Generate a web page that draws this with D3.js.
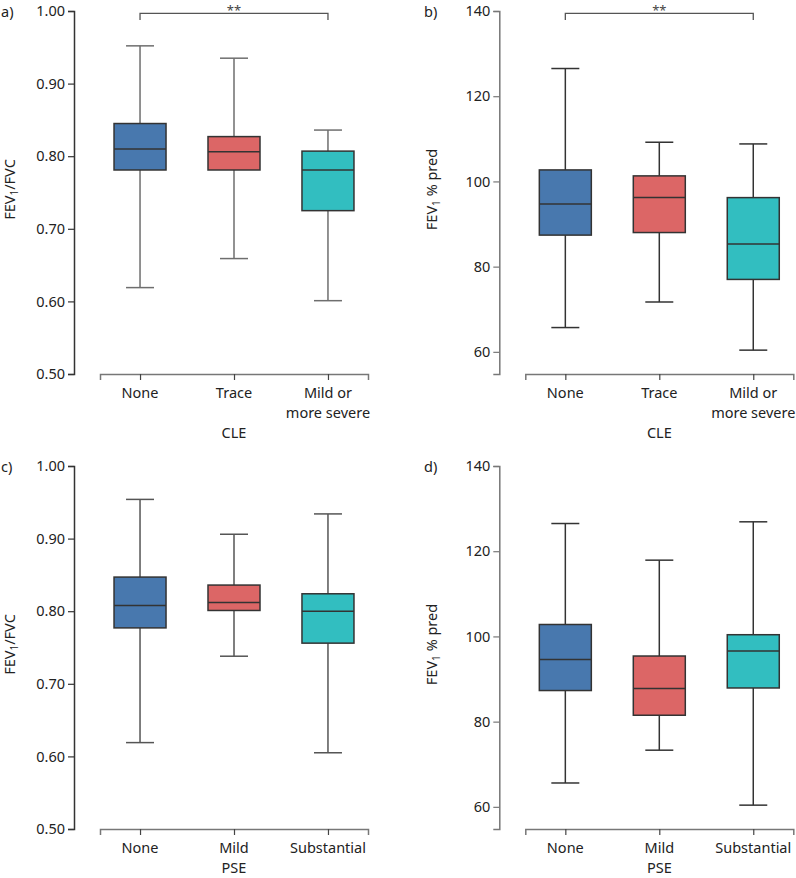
<!DOCTYPE html>
<html>
<head>
<meta charset="utf-8">
<script src="https://cdn.jsdelivr.net/npm/d3@7"></script>
<style>
  body { margin: 0; background: #fff; }
  svg { display: block; font-family: "Noto Sans", sans-serif; }
</style>
</head>
<body>
<svg id="chart" width="796" height="878"></svg>
<script>
// ---------- DATA ----------
const cleCategories = ["None", "Trace", "Mild or more severe"];
const cleTickLines = [["None"], ["Trace"], ["Mild or", "more severe"]];
const pseCategories = ["None", "Mild", "Substantial"];
const pseTickLines = [["None"], ["Mild"], ["Substantial"]];

const ratioTicks = [0.50, 0.60, 0.70, 0.80, 0.90, 1.00];
const ratioDomain = [0.50, 1.00];
const predTicks = [60, 80, 100, 120, 140];
const predDomain = [54.8, 140];

// [lower whisker, Q1, median, Q3, upper whisker]
const cleRatio = [
  [0.619, 0.781, 0.810, 0.845, 0.952],
  [0.659, 0.781, 0.806, 0.827, 0.935],
  [0.601, 0.725, 0.781, 0.807, 0.836]
];
const clePred = [
  [65.7, 87.4, 94.7, 102.7, 126.5],
  [71.7, 88.0, 96.2, 101.3, 109.2],
  [60.4, 77.0, 85.3, 96.2, 108.8]
];
const pseRatio = [
  [0.619, 0.777, 0.808, 0.847, 0.954],
  [0.738, 0.801, 0.812, 0.836, 0.906],
  [0.605, 0.756, 0.800, 0.824, 0.934]
];
const psePred = [
  [65.6, 87.3, 94.6, 102.8, 126.5],
  [73.3, 81.5, 87.8, 95.4, 117.9],
  [60.4, 87.9, 96.6, 100.4, 126.9]
];

const boxColors = ["#4878ae", "#dc6666", "#32bec0"];

// ---------- DRAW ----------
(function () {
const svg = d3.select("#chart");
const FS = 14.5;

const panels = [
  { letter: "a)", ox: 0, oy: 0, stats: cleRatio, cats: cleCategories, lines: cleTickLines,
    domain: ratioDomain, ticks: ratioTicks, fmt: d3.format(".2f"), ylab: "ratio", xlab: "CLE",
    sig: true, whisk: "#6e6e6e", yaxis: "#333" },
  { letter: "b)", ox: 425.3, oy: 0, stats: clePred, cats: cleCategories, lines: cleTickLines,
    domain: predDomain, ticks: predTicks, fmt: d3.format("d"), ylab: "pred", xlab: "CLE",
    sig: true, whisk: "#333", yaxis: "#777" },
  { letter: "c)", ox: 0, oy: 455, stats: pseRatio, cats: pseCategories, lines: pseTickLines,
    domain: ratioDomain, ticks: ratioTicks, fmt: d3.format(".2f"), ylab: "ratio", xlab: "PSE",
    sig: false, whisk: "#555", yaxis: "#333" },
  { letter: "d)", ox: 425.3, oy: 455, stats: psePred, cats: pseCategories, lines: pseTickLines,
    domain: predDomain, ticks: predTicks, fmt: d3.format("d"), ylab: "pred", xlab: "PSE",
    sig: false, whisk: "#333", yaxis: "#777" }
];

const axisX = 74, plotTop = 11, plotBottom = 374;
const xr = [100, 368];
const boxW = 52, capW = 28;

panels.forEach(p => {
  const g = svg.append("g").attr("transform", `translate(${p.ox},${p.oy})`);
  const y = d3.scaleLinear().domain(p.domain).range([plotBottom, plotTop]);
  const x = d3.scalePoint().domain(p.cats).range(xr).padding(0.426);

  // y axis
  const ya = g.append("g").attr("transform", `translate(${axisX},0)`)
    .call(d3.axisLeft(y).tickValues(p.ticks).tickFormat(p.fmt).tickSizeOuter(0).tickSize(6).tickPadding(3));
  ya.select(".domain").attr("stroke", p.yaxis).attr("stroke-width", 1.5);
  ya.selectAll(".tick line").attr("stroke", p.yaxis).attr("stroke-width", 1.2);
  ya.selectAll(".tick text").attr("font-size", FS).attr("fill", "#222")
    .attr("font-family", "Noto Sans, sans-serif");

  // x axis
  const xa = g.append("g").attr("transform", `translate(0,${plotBottom})`)
    .call(d3.axisBottom(x).tickSizeOuter(0).tickSize(6).tickFormat(""));
  xa.select(".domain").attr("stroke", "#777").attr("stroke-width", 1.5);
  xa.selectAll(".tick line").attr("stroke", "#444").attr("stroke-width", 1.2);
  xa.selectAll(".tick text").remove();

  // tick labels (multi-line)
  p.cats.forEach((c, i) => {
    p.lines[i].forEach((ln, j) => {
      g.append("text").attr("x", x(c)).attr("y", plotBottom + 24 + j * 20)
        .attr("text-anchor", "middle").attr("font-size", FS).attr("fill", "#222").text(ln);
    });
  });
  // x axis title
  const maxLines = d3.max(p.lines, l => l.length);
  g.append("text").attr("x", x(p.cats[1])).attr("y", plotBottom + (maxLines > 1 ? 64 : 44))
    .attr("text-anchor", "middle").attr("font-size", FS).attr("fill", "#222").text(p.xlab);

  // y axis title
  const yl = g.append("text")
    .attr("transform", `translate(${p.ylab === "ratio" ? 15 : 12},${(plotTop + plotBottom) / 2 - 3}) rotate(-90)`)
    .attr("text-anchor", "middle").attr("font-size", FS).attr("fill", "#222");
  yl.append("tspan").text("FEV");
  yl.append("tspan").attr("font-size", 10).attr("dy", 3).text("1");
  yl.append("tspan").attr("dy", -3).text(p.ylab === "ratio" ? "/FVC" : " % pred");

  // panel letter
  g.append("text").attr("x", p.ylab === "ratio" ? 1 : -1.3).attr("y", 17)
    .attr("font-size", FS).attr("fill", "#222").text(p.letter);

  // boxes
  p.stats.forEach((s, i) => {
    const cx = x(p.cats[i]);
    const [lo, q1, med, q3, hi] = s;
    const bg = g.append("g");
    bg.append("line").attr("x1", cx).attr("x2", cx).attr("y1", y(hi)).attr("y2", y(q3))
      .attr("stroke", p.whisk).attr("stroke-width", 1.5);
    bg.append("line").attr("x1", cx).attr("x2", cx).attr("y1", y(q1)).attr("y2", y(lo))
      .attr("stroke", p.whisk).attr("stroke-width", 1.5);
    [hi, lo].forEach(v => {
      bg.append("line").attr("x1", cx - capW / 2).attr("x2", cx + capW / 2)
        .attr("y1", y(v)).attr("y2", y(v)).attr("stroke", p.whisk).attr("stroke-width", 1.5);
    });
    bg.append("rect").attr("x", cx - boxW / 2).attr("width", boxW)
      .attr("y", y(q3)).attr("height", y(q1) - y(q3))
      .attr("fill", boxColors[i]).attr("stroke", "#333").attr("stroke-width", 1.5);
    bg.append("line").attr("x1", cx - boxW / 2).attr("x2", cx + boxW / 2)
      .attr("y1", y(med)).attr("y2", y(med)).attr("stroke", "#333").attr("stroke-width", 1.5);
  });

  // significance bracket
  if (p.sig) {
    const x0 = x(p.cats[0]), x2 = x(p.cats[2]);
    g.append("path").attr("d", `M${x0},20V13.3H${x2}V20`).attr("fill", "none")
      .attr("stroke", "#555").attr("stroke-width", 1.3);
    g.append("text").attr("x", x(p.cats[1])).attr("y", 14.5).attr("text-anchor", "middle")
      .attr("font-size", 13).attr("fill", "#444").text("**");
  }
});
})();
</script>
</body>
</html>
